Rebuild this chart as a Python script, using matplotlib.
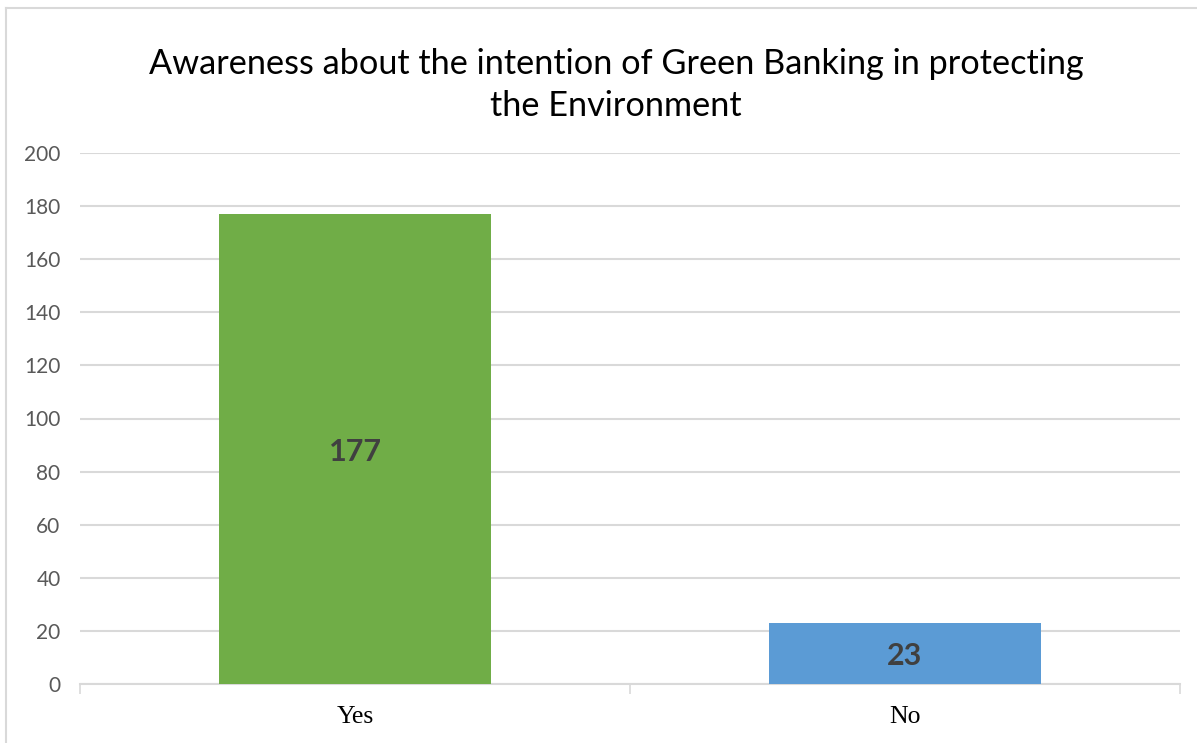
import matplotlib.pyplot as plt
from matplotlib.lines import Line2D

# survey answers
categories = ["Yes", "No"]
counts = [177, 23]
colors = ["#70AD47", "#5B9BD5"]
yticks = [0, 20, 40, 60, 80, 100, 120, 140, 160, 180, 200]

title = "Awareness about the intention of Green Banking in protecting\nthe Environment"

fig = plt.figure(figsize=(11.97, 7.43), dpi=100)
ax = fig.add_axes([80 / 1197, 1 - 684 / 743, 1100 / 1197, 531 / 743])

x = range(len(categories))
bars = ax.bar(x, counts, width=0.493, color=colors, zorder=3)

for b, v in zip(bars, counts):
    ax.text(b.get_x() + b.get_width() / 2, v / 2, str(v), ha="center", va="center_baseline",
            fontsize=22, fontweight="bold", color="#404040", family="Lato", zorder=4)

ax.set_xlim(-0.5, len(categories) - 0.5)
ax.set_ylim(0, 200)
ax.set_yticks(yticks)
ax.set_yticklabels([str(t) for t in yticks], family="Lato", fontsize=15, color="#595959")
ax.tick_params(axis="y", length=0, pad=14)

# category labels in serif, ticks between categories
ax.set_xticks([-0.5, 0.5, 1.5])
ax.set_xticklabels([])
ax.tick_params(axis="x", length=7, width=1.2, color="#d9d9d9", direction="out")
for i, c in enumerate(categories):
    ax.text(i, -12.5, c, ha="center", va="center", fontsize=18.5, family="Liberation Serif",
            color="black")

ax.grid(axis="y", color="#d9d9d9", linewidth=1.5, zorder=0)
for s in ["top", "right", "left"]:
    ax.spines[s].set_visible(False)
ax.spines["bottom"].set_color("#d9d9d9")
ax.spines["bottom"].set_linewidth(1.5)

fig.text(616 / 1197, 1 - 85 / 743, title, ha="center", va="center", fontsize=24.7,
         family="Lato", color="black", linespacing=1.42)

# chart frame
fig.add_artist(Line2D([6 / 1197, 6 / 1197], [0, 1 - 8 / 743], color="#d9d9d9", lw=1.5))
fig.add_artist(Line2D([6 / 1197, 1], [1 - 8 / 743, 1 - 8 / 743], color="#d9d9d9", lw=1.5))

fig.savefig("out.png", dpi=100)
